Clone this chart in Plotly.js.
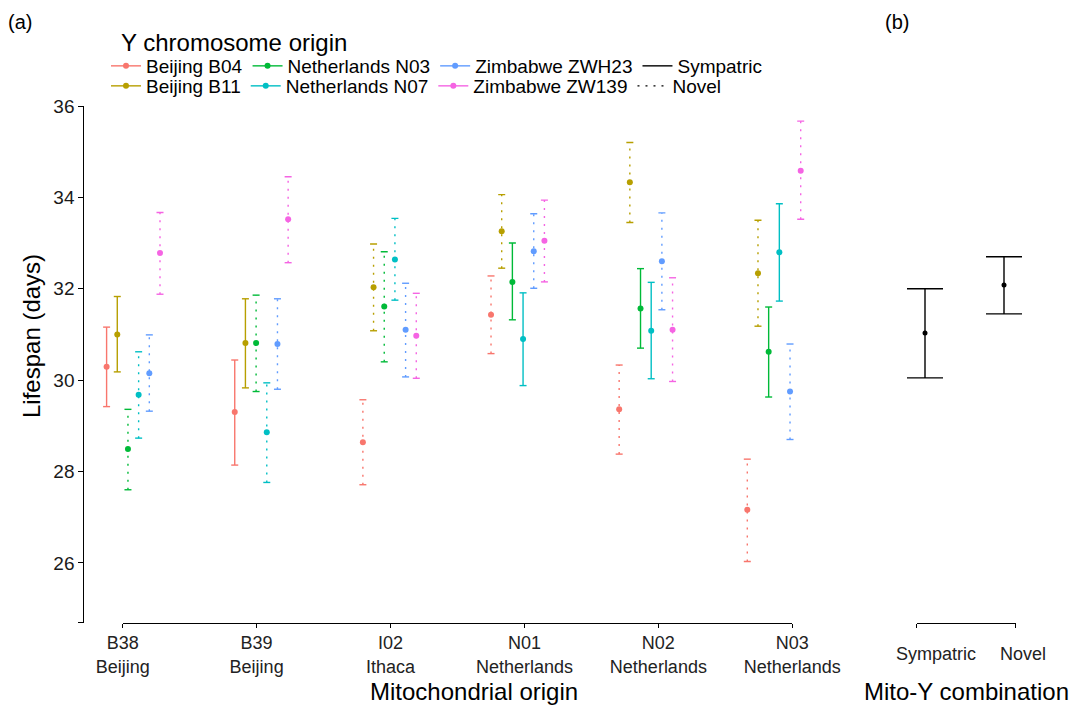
<!DOCTYPE html>
<html><head><meta charset="utf-8">
<script src="https://cdn.plot.ly/plotly-3.0.1.min.js"></script>
<style>html,body{margin:0;padding:0;background:#fff}#chart{width:1076px;height:707px}</style>
</head><body><div id="chart"></div>
<script>
// ---------- data ----------
const mitoCodes   = ['B38','B39','I02','N01','N02','N03'];
const mitoRegions = ['Beijing','Beijing','Ithaca','Netherlands','Netherlands','Netherlands'];
const yNames   = ['Beijing B04','Beijing B11','Netherlands N03','Netherlands N07','Zimbabwe ZWH23','Zimbabwe ZW139'];
const yRegions = ['Beijing','Beijing','Netherlands','Netherlands','Zimbabwe','Zimbabwe'];

const meanB04 = [30.29, 29.30, 28.64, 31.43, 29.36, 27.16];
const lowB04  = [29.42, 28.14, 27.71, 30.58, 28.38, 26.03];
const highB04 = [31.16, 30.44, 29.57, 32.28, 30.33, 28.27];

const meanB11 = [31.00, 30.81, 32.03, 33.26, 34.33, 32.34];
const lowB11  = [30.18, 29.83, 31.08, 32.45, 33.45, 31.18];
const highB11 = [31.83, 31.78, 32.98, 34.06, 35.20, 33.50];

const meanN03 = [28.49, 30.81, 31.61, 32.15, 31.57, 30.62];
const lowN03  = [27.60, 29.75, 30.40, 31.32, 30.70, 29.63];
const highN03 = [29.36, 31.86, 32.81, 33.00, 32.44, 31.60];

const meanN07 = [29.68, 28.86, 32.64, 30.90, 31.08, 32.80];
const lowN07  = [28.73, 27.76, 31.75, 29.88, 30.03, 31.73];
const highN07 = [30.62, 29.94, 33.54, 31.91, 32.14, 33.86];

const meanZWH23 = [30.15, 30.79, 31.10, 32.82, 32.60, 29.75];
const lowZWH23  = [29.32, 29.80, 30.07, 32.01, 31.54, 28.70];
const highZWH23 = [30.99, 31.78, 32.12, 33.64, 33.66, 30.79];

const meanZW139 = [32.78, 33.52, 30.97, 33.05, 31.10, 34.58];
const lowZW139  = [31.88, 32.57, 30.04, 32.15, 29.97, 33.52];
const highZW139 = [33.67, 34.45, 31.90, 33.94, 32.24, 35.67];

const comboNames = ['Sympatric','Novel'];
const comboMean  = [31.03, 32.08];
const comboLow   = [30.05, 31.45];
const comboHigh  = [32.00, 32.70];

const yTicks = [26, 28, 30, 32, 34, 36];

// ---------- styling / layout helpers ----------
const seriesMeans = [meanB04, meanB11, meanN03, meanN07, meanZWH23, meanZW139];
const seriesLows  = [lowB04, lowB11, lowN03, lowN07, lowZWH23, lowZW139];
const seriesHighs = [highB04, highB11, highN03, highN07, highZWH23, highZW139];
const seriesColors = ['#F8766D','#B79F00','#00BA38','#00BFC4','#619CFF','#F564E3'];

const W = 1076, H = 707;
const px = v => v / W;
const py = v => 1 - v / H;
const FONT = '"Liberation Sans", Arial, Helvetica, sans-serif';
const DOT = '2px,6px';
const LW = 1.4;
const yMin = 24.69, yMax = 36;

// data axis for panel a: group 0 centre at 133.3px, 128.14 px per group
const aStart = 100, aEnd = 848, aC0 = 133.3, aStep = 128.14;
// data axis for panel b
const bStart = 850, bEnd = 1076, bC0 = 925, bStep = 79;

const traces = [];
const nS = yNames.length;
for (let j = 0; j < nS; j++) {
  const off = (j - (nS - 1) / 2) * 0.5 / nS;
  const sx = [], sy = [], dx = [], dy = [], ptx = [], pty = [];
  for (let i = 0; i < mitoCodes.length; i++) {
    const x = i + off;
    const symp = yRegions[j] === mitoRegions[i];
    const X = symp ? sx : dx, Y = symp ? sy : dy;
    X.push(x, x, null);
    Y.push(seriesLows[j][i], seriesHighs[j][i], null);
    ptx.push(x, null);
    pty.push(seriesMeans[j][i], null);
  }
  const col = seriesColors[j];
  traces.push({type:'scatter', mode:'lines+markers', x:sx, y:sy, xaxis:'x2', yaxis:'y',
    line:{color:col, width:LW}, marker:{symbol:'line-ew', size:5, color:col, line:{color:col, width:LW}},
    showlegend:false, hoverinfo:'skip', connectgaps:false});
  traces.push({type:'scatter', mode:'lines+markers', x:dx, y:dy, xaxis:'x2', yaxis:'y',
    line:{color:col, width:LW, dash:DOT}, marker:{symbol:'line-ew', size:5, color:col, line:{color:col, width:LW}},
    showlegend:false, hoverinfo:'skip', connectgaps:false});
  traces.push({type:'scatter', mode:'lines+markers', x:ptx, y:pty, xaxis:'x2', yaxis:'y',
    name:yNames[j], legend: j % 2 === 0 ? 'legend' : 'legend2',
    line:{color:col, width:LW}, marker:{size:6, color:col}, connectgaps:false});
}
// line-type legend entries
traces.push({type:'scatter', mode:'lines', x:[null], y:[null], xaxis:'x2', yaxis:'y', name:comboNames[0],
  legend:'legend', line:{color:'#000', width:LW}});
traces.push({type:'scatter', mode:'lines', x:[null], y:[null], xaxis:'x2', yaxis:'y', name:comboNames[1],
  legend:'legend2', line:{color:'#000', width:LW, dash:DOT}});

// panel b
traces.push({type:'scatter', mode:'markers', x:comboNames.map((_, i) => i), y:comboMean, xaxis:'x4', yaxis:'y',
  marker:{size:5, color:'#000'}, showlegend:false,
  error_y:{type:'data', symmetric:false,
    array: comboHigh.map((h, i) => h - comboMean[i]),
    arrayminus: comboMean.map((m, i) => m - comboLow[i]),
    color:'#000', thickness:LW, width:18}});

// carriers so the label/bracket axes are drawn (no visible marks)
traces.push({type:'scatter', mode:'markers', x:mitoCodes.map((_, i) => i), y:mitoCodes.map(() => null),
  xaxis:'x', yaxis:'y', showlegend:false, hoverinfo:'skip'});
traces.push({type:'scatter', mode:'markers', x:comboNames.map((_, i) => i), y:comboNames.map(() => null),
  xaxis:'x3', yaxis:'y', showlegend:false, hoverinfo:'skip'});
traces.push({type:'scatter', mode:'markers', x:comboNames.map((_, i) => i), y:comboNames.map(() => null),
  xaxis:'x5', yaxis:'y', showlegend:false, hoverinfo:'skip'});

const axBase = {showgrid:false, zeroline:false, fixedrange:true};
const legendBase = {orientation:'h', xanchor:'left', yanchor:'middle', font:{size:19, family:FONT, color:'#000'},
  bgcolor:'rgba(0,0,0,0)', borderwidth:0, itemclick:false, itemdoubleclick:false, tracegroupgap:0};

const layout = {
  width:W, height:H, margin:{l:0, r:0, t:0, b:0},
  paper_bgcolor:'#fff', plot_bgcolor:'rgba(0,0,0,0)',
  font:{family:FONT, color:'#000', size:19},
  showlegend:true,
  yaxis:Object.assign({}, axBase, {domain:[py(622.7), py(106)], range:[yMin, yMax], anchor:'free', position:px(83.3),
    tickvals:[yMin].concat(yTicks), ticktext:[''].concat(yTicks.map(String)), ticks:'outside', ticklen:5,
    tickcolor:'#000', showline:true, linecolor:'#000', linewidth:1, tickfont:{size:19, color:'#1a1a1a'}}),
  xaxis:Object.assign({}, axBase, {domain:[px(122.7), px(792.3)], range:[0, mitoCodes.length - 1], anchor:'y',
    tickvals:mitoCodes.map((_, i) => i), ticktext:mitoCodes.map((c, i) => c + '<br>' + mitoRegions[i]),
    ticks:'outside', ticklen:4, tickcolor:'#000', showline:true, linecolor:'#000', linewidth:1,
    tickfont:{size:18, color:'#222'}}),
  xaxis2:Object.assign({}, axBase, {domain:[px(aStart), px(aEnd)],
    range:[(aStart - aC0) / aStep, (aEnd - aC0) / aStep], anchor:'y', visible:false}),
  xaxis3:Object.assign({}, axBase, {domain:[px(916.7), px(1015.7)], range:[0, 1], anchor:'y',
    tickvals:[0, 1], ticktext:['', ''], ticks:'outside', ticklen:4, tickcolor:'#000',
    showline:true, linecolor:'#000', linewidth:1}),
  xaxis4:Object.assign({}, axBase, {domain:[px(bStart), px(bEnd)],
    range:[(bStart - bC0) / bStep, (bEnd - bC0) / bStep], anchor:'y', visible:false}),
  xaxis5:Object.assign({}, axBase, {domain:[px(936), px(1023)], range:[0, 1], anchor:'free', position:py(641),
    tickvals:[0, 1], ticktext:comboNames, ticks:'', showline:false, tickfont:{size:18, color:'#222'}}),
  legend:Object.assign({}, legendBase, {x:px(106), y:py(66)}),
  legend2:Object.assign({}, legendBase, {x:px(106), y:py(86)}),
  annotations:[
    {text:'(a)', x:px(20), y:py(22), xref:'paper', yref:'paper', showarrow:false, xanchor:'center', yanchor:'middle', font:{size:20}},
    {text:'(b)', x:px(897), y:py(22), xref:'paper', yref:'paper', showarrow:false, xanchor:'center', yanchor:'middle', font:{size:20}},
    {text:'Y chromosome origin', x:px(119), y:py(42), xref:'paper', yref:'paper', showarrow:false, xanchor:'left', yanchor:'middle', font:{size:24}},
    {text:'Lifespan (days)', x:px(31), y:py(336), xref:'paper', yref:'paper', showarrow:false, xanchor:'center', yanchor:'middle', textangle:-90, font:{size:24}},
    {text:'Mitochondrial origin', x:px(474), y:py(691), xref:'paper', yref:'paper', showarrow:false, xanchor:'center', yanchor:'middle', font:{size:24}},
    {text:'Mito-Y combination', x:px(966), y:py(691), xref:'paper', yref:'paper', showarrow:false, xanchor:'center', yanchor:'middle', font:{size:24}}
  ]
};

Plotly.newPlot('chart', traces, layout, {displayModeBar:false, staticPlot:true});
</script>
</body></html>
